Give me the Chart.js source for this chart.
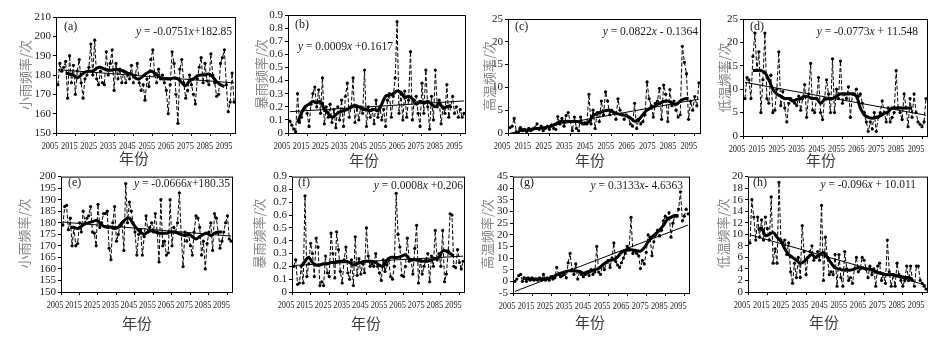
<!DOCTYPE html>
<html>
<head>
<meta charset="utf-8">
<script src="https://cdn.jsdelivr.net/npm/chart.js@4.4.0/dist/chart.umd.min.js"></script>
<style>
  body { margin: 0; background: #fff; width: 950px; height: 340px; position: relative; overflow: hidden; }
  .panel { position: absolute; }
</style>
</head>
<body>
<script>
/**
 * 8-panel climate frequency chart (2006-2097)
 * annual values (dashed), moving average (thick), linear trend (thin)
 */

// ---- shared axes ----
const xTicks = [2005, 2015, 2025, 2035, 2045, 2055, 2065, 2075, 2085, 2095];
const years = [
    2006, 2007, 2008, 2009, 2010, 2011, 2012, 2013, 2014, 2015,
    2016, 2017, 2018, 2019, 2020, 2021, 2022, 2023, 2024, 2025,
    2026, 2027, 2028, 2029, 2030, 2031, 2032, 2033, 2034, 2035,
    2036, 2037, 2038, 2039, 2040, 2041, 2042, 2043, 2044, 2045,
    2046, 2047, 2048, 2049, 2050, 2051, 2052, 2053, 2054, 2055,
    2056, 2057, 2058, 2059, 2060, 2061, 2062, 2063, 2064, 2065,
    2066, 2067, 2068, 2069, 2070, 2071, 2072, 2073, 2074, 2075,
    2076, 2077, 2078, 2079, 2080, 2081, 2082, 2083, 2084, 2085,
    2086, 2087, 2088, 2089, 2090, 2091, 2092, 2093, 2094, 2095,
    2096, 2097
];
const smoothYears = [
    2010, 2012, 2014, 2016, 2018, 2020, 2022, 2024, 2026, 2028,
    2030, 2032, 2034, 2036, 2038, 2040, 2042, 2044, 2046, 2048,
    2050, 2052, 2054, 2056, 2058, 2060, 2062, 2064, 2066, 2068,
    2070, 2072, 2074, 2076, 2078, 2080, 2082, 2084, 2086, 2088,
    2090, 2092
];
const trendYears = [2006, 2097];

// ---- (a) 小雨 ----
const rawA = [
    175, 186, 182, 184, 187, 168, 190, 176, 185, 170,
    182, 188, 176, 168, 178, 180, 184, 196, 180, 198,
    178, 175, 182, 176, 175, 192, 180, 186, 193, 172,
    186, 178, 183, 176, 182, 176, 180, 178, 185, 176,
    180, 186, 176, 172, 175, 167, 178, 174, 188, 193,
    180, 176, 183, 178, 180, 176, 172, 160, 175, 192,
    186, 170, 155, 183, 188, 176, 168, 172, 180, 175,
    170, 165, 178, 184, 189, 176, 186, 177, 175, 191,
    180, 176, 169, 170, 186, 189, 193, 175, 161, 166,
    181, 166
];
const smoothA = [
    181, 180.5, 180, 178.5, 180, 181.5, 182, 182, 183.5, 184,
    183, 182.5, 182.5, 183, 182.5, 182, 181, 180.5, 178.5, 178,
    179.5, 181, 182, 181, 179.5, 178, 178, 178, 178.5, 178,
    176, 174.5, 177, 178, 179.5, 180, 180, 180.5, 179, 176.5,
    175, 174
];
const trendA = [182.77, 175.94];

// ---- (b) 暴雨 ----
const rawB = [
    0.09, 0.06, 0.03, 0.01, 0.30, 0.08, 0.12, 0.18, 0.20, 0.15,
    0.05, 0.22, 0.30, 0.35, 0.20, 0.33, 0.15, 0.42, 0.07, 0.20,
    0.12, 0.22, 0.08, 0.18, 0.04, 0.20, 0.10, 0.25, 0.05, 0.28,
    0.38, 0.12, 0.20, 0.42, 0.08, 0.20, 0.10, 0.20, 0.15, 0.48,
    0.05, 0.20, 0.12, 0.18, 0.07, 0.25, 0.12, 0.20, 0.10, 0.18,
    0.05, 0.25, 0.30, 0.12, 0.28, 0.42, 0.85, 0.15, 0.30, 0.10,
    0.32, 0.12, 0.25, 0.62, 0.10, 0.25, 0.28, 0.15, 0.05, 0.38,
    0.15, 0.48, 0.20, 0.03, 0.28, 0.10, 0.48, 0.20, 0.25, 0.07,
    0.20, 0.15, 0.37, 0.12, 0.20, 0.28, 0.15, 0.20, 0.12, 0.18,
    0.12, 0.15
];
const smoothB = [
    0.08, 0.15, 0.20, 0.22, 0.24, 0.23, 0.24, 0.18, 0.15, 0.12,
    0.14, 0.16, 0.17, 0.18, 0.20, 0.21, 0.20, 0.18, 0.18, 0.17,
    0.18, 0.17, 0.22, 0.28, 0.29, 0.30, 0.32, 0.31, 0.27, 0.28,
    0.26, 0.22, 0.24, 0.23, 0.24, 0.22, 0.20, 0.23, 0.19, 0.20,
    0.21, null
];
const trendB = [0.1626, 0.2445];

// ---- (c) 高温 ----
const rawC = [
    1.2, 1.5, 3.2, 0.3, 0.2, 1.2, 0.5, 0.8, 0.3, 1.0,
    0.5, 0.8, 1.2, 2.0, 0.8, 1.5, 0.5, 1.0, 1.5, 0.8,
    1.8, 1.0, 0.8, 3.6, 2.0, 3.2, 1.5, 3.8, 4.5, 2.5,
    0.5, 3.5, 1.0, 0.5, 3.5, 2.0, 2.2, 2.0, 8.5, 2.0,
    5.0, 1.0, 4.5, 2.5, 7.0, 4.0, 9.0, 7.0, 4.0, 5.0,
    4.5, 3.0, 7.5, 5.0, 4.0, 3.0, 4.0, 3.5, 2.0, 1.5,
    6.5, 1.0, 3.0, 2.0, 2.5, 4.0, 11.2, 7.5, 6.0, 3.5,
    6.5, 7.0, 9.8, 3.0, 10.5, 8.5, 2.5, 9.5, 6.0, 7.0,
    5.0, 3.5, 4.0, 19.0, 15.5, 13.0, 3.0, 7.0, 5.0, 8.0,
    6.0, 11.0
];
const smoothC = [
    0.8, 0.7, 0.6, 0.8, 1.0, 1.0, 1.1, 1.3, 1.5, 2.0,
    2.5, 2.5, 2.6, 2.5, 2.5, 2.3, 2.0, 2.5, 3.8, 4.3,
    4.6, 4.9, 5.0, 4.5, 4.2, 4.0, 3.8, 3.3, 2.6, 3.0,
    4.0, 5.0, 5.5, 6.0, 6.5, 6.9, 7.0, 6.6, 6.3, 7.0,
    7.5, 7.6
];
const trendC = [-0.054, 7.43];

// ---- (d) 低温 ----
const rawD = [
    8, 12.5, 12, 8, 17, 22, 14, 18, 5, 12,
    22, 8, 7, 13, 5, 5.5, 10, 18, 6.5, 9.5,
    6, 3, 7, 8, 7.5, 7, 6.5, 8.5, 5.5, 8,
    11, 4, 9, 15.5, 5.5, 5, 8, 12.5, 5, 3.5,
    8, 12, 9, 5, 16.5, 5, 10, 8, 16, 7,
    9, 8, 10.5, 4, 9, 9, 10, 8.5, 9, 7,
    5, 3, 1, 3, 1.5, 5, 1, 4, 5, 7.5,
    5, 3, 6, 3, 4, 5, 14, 6, 5, 3.5,
    9, 6, 2, 8, 4, 9, 5, 3, 2.5, 2,
    3, 8
];
const smoothD = [
    14, 14, 14, 13.5, 12, 10, 9, 8.5, 8, 8,
    7.5, 7.8, 8, 8.5, 8.3, 8, 8, 7, 7.8, 8,
    8, 8.5, 9, 9, 9, 9, 8.5, 6, 4.5, 4,
    3.8, 4, 4.3, 4.8, 5.2, 6, 6, 6, 6, 6,
    6, null
];
const trendD = [11.47, 4.44];

// ---- (e) 小雨 ----
const rawE = [
    179, 187, 187.5, 177, 182, 170, 178, 170, 171, 180,
    176, 185, 180, 182, 183, 187, 176, 175.5, 170, 188,
    178, 180, 184, 184, 185, 169, 164, 180, 187, 172,
    175, 179, 180, 168, 197, 180, 189, 185, 180, 176,
    166, 175, 177, 166, 174, 183, 176, 178, 180, 176,
    184, 176, 163, 190, 170, 172, 166, 167, 190, 170,
    178, 176, 180, 193, 175, 161, 176, 172, 175, 170,
    166, 176, 183, 182, 178, 166, 172, 160, 171, 176,
    180, 168, 184, 182, 176, 169, 172, 176, 180, 183,
    173, 172
];
const smoothE = [
    178, 178, 177.5, 178.5, 179.5, 180, 180.5, 181, 180, 178.5,
    178, 178, 177.5, 178, 180, 181.5, 182, 179.5, 177.5, 176,
    175, 176, 176.5, 176, 175.5, 175.5, 175.5, 176, 176, 175.5,
    175, 174.5, 175, 174, 173, 174, 175, 175.5, 174.5, 175.5,
    176, 176
];
const trendE = [180.28, 174.22];

// ---- (f) 暴雨 ----
const rawF = [
    0.20, 0.25, 0.06, 0.07, 0.20, 0.07, 0.75, 0.12, 0.22, 0.38,
    0.30, 0.12, 0.42, 0.35, 0.05, 0.08, 0.05, 0.28, 0.15, 0.12,
    0.46, 0.30, 0.11, 0.47, 0.33, 0.16, 0.07, 0.25, 0.35, 0.15,
    0.10, 0.25, 0.05, 0.43, 0.13, 0.26, 0.14, 0.22, 0.15, 0.50,
    0.28, 0.20, 0.22, 0.20, 0.30, 0.20, 0.15, 0.09, 0.25, 0.16,
    0.21, 0.25, 0.12, 0.10, 0.20, 0.77, 0.45, 0.35, 0.13, 0.12,
    0.20, 0.42, 0.24, 0.25, 0.14, 0.34, 0.52, 0.07, 0.25, 0.14,
    0.20, 0.25, 0.30, 0.08, 0.28, 0.20, 0.48, 0.25, 0.30, 0.20,
    0.48, 0.08, 0.14, 0.32, 0.61, 0.60, 0.20, 0.19, 0.33, 0.23,
    0.18, 0.24
];
const smoothF = [
    0.20, 0.24, 0.27, 0.23, 0.21, 0.21, 0.22, 0.22, 0.23, 0.23,
    0.24, 0.24, 0.24, 0.23, 0.21, 0.22, 0.23, 0.24, 0.24, 0.24,
    0.23, 0.21, 0.20, 0.25, 0.27, 0.27, 0.27, 0.28, 0.29, 0.26,
    0.25, 0.25, 0.24, 0.24, 0.24, 0.25, 0.26, 0.27, 0.32, 0.32,
    0.30, 0.28
];
const trendF = [0.2068, 0.2796];

// ---- (g) 高温 ----
const rawG = [
    0, 1, 2.5, 3, 0, 1.5, 0, 1.5, 0.5, 1.5,
    0.5, 1, 0.5, 1.5, 0.5, 3, 0.5, 1.5, 0.5, 2,
    1, 1.5, 6, 3, 2, 2.5, 3, 1.5, 8, 12,
    5, 3, 7.5, 1, 4, 3, 2, 3, 3.5, 2.5,
    5, 3, 4, 15, 4, 3, 7, 5, 8, 9,
    6, 10, 16.5, 8.5, 7, 6, 8, 10, 12, 15,
    14, 27.5, 12, 13, 12, 11, 5.5, 9, 7.5, 12.5,
    20, 19, 11, 17, 20, 22, 19.5, 22, 26, 28,
    27, 29.5, 19, 25, 28, 28, 31, 38.5, 26, 28,
    31, 29
];
const smoothG = [
    1.5, 1.2, 1.0, 1.0, 1.0, 1.0, 1.2, 1.3, 2.0, 2.8,
    3.5, 4.0, 4.5, 4.5, 4.5, 4.3, 3.5, 4.0, 4.5, 5.0,
    5.5, 7.0, 8.2, 9.0, 9.3, 10.5, 12.5, 13.2, 13.5, 13.5,
    13.2, 13.0, 14.5, 17, 19, 20.5, 22, 24, 26.5, 27.5,
    28.3, 28
];
const trendG = [-4.32, 24.19];

// ---- (h) 低温 ----
const rawH = [
    8.5, 16, 13, 9, 13, 9.5, 12.5, 9, 13, 11,
    9, 16.5, 5, 7.5, 5, 19, 9, 8.5, 9, 6.5,
    8.5, 3.5, 1.5, 5, 2.5, 6, 2.5, 11.5, 7, 3,
    6, 7, 8, 5.5, 6, 7, 5.5, 15, 2, 9.5,
    6, 3, 3.5, 3, 6.5, 1, 6.5, 2.5, 1, 7,
    4, 2, 2.5, 1.5, 4, 6, 3.5, 4, 6, 5.5,
    4, 2.5, 4.5, 3, 4, 1, 4.5, 5, 2, 3,
    1.5, 9, 3.5, 1, 3, 1, 5, 3, 2, 1,
    2, 4.5, 2, 4.5, 2, 1, 4.5, 4.5, 2, 1.5,
    1, 0.5
];
const smoothH = [
    10.8, 11, 9.8, 10, 10.3, 9.5, 8.8, 7.5, 6.5, 6,
    5.5, 5, 5.3, 6, 6.5, 6, 6.5, 6.8, 6, 5,
    4.2, 4, 3.8, 3.8, 3.8, 4, 4.2, 4.2, 4, 4,
    3.7, 3.3, 3.2, 3, 3, 3, 2.8, 2.7, 2.5, 2.5,
    2.2, null
];
const trendH = [9.92, 1.18];

// ---- panel layout (page px): canvas [x, y, w, h], plot [left, top, right, bottom] ----
const panels = [
    { tag: '(a)', yTitle: '小雨频率/次', eq: 'y = -0.0751x+182.85', raw: rawA, smooth: smoothA, trend: trendA,
      yMin: 150, yMax: 210, yStep: 10, canvas: [0, 0, 240, 170], plot: [56, 17, 236, 133],
      tagAt: [64, 27], eqAt: [232, 32, 'right'], yTitleX: 25, xTitleAt: [134, 158] },
    { tag: '(b)', yTitle: '暴雨频率/次', eq: 'y = 0.0009x +0.1617', raw: rawB, smooth: smoothB, trend: trendB,
      yMin: 0, yMax: 0.9, yStep: 0.1, canvas: [238, 0, 234, 170], plot: [288, 15, 466, 133],
      tagAt: [295, 25], eqAt: [298, 47, 'left'], yTitleX: 261, xTitleAt: [364, 160] },
    { tag: '(c)', yTitle: '高温频率/次', eq: 'y = 0.0822x - 0.1364', raw: rawC, smooth: smoothC, trend: trendC,
      yMin: 0, yMax: 25, yStep: 5, canvas: [472, 0, 234, 170], plot: [508, 19, 701, 133],
      tagAt: [515, 27], eqAt: [698, 32, 'right'], yTitleX: 489, xTitleAt: [590, 160] },
    { tag: '(d)', yTitle: '低温频率/次', eq: 'y = -0.0773x + 11.548', raw: rawD, smooth: smoothD, trend: trendD,
      yMin: 0, yMax: 25, yStep: 5, canvas: [707, 0, 243, 170], plot: [743, 19, 928, 136],
      tagAt: [750, 27], eqAt: [918, 32, 'right'], yTitleX: 724, xTitleAt: [821, 160] },
    { tag: '(e)', yTitle: '小雨频率/次', eq: 'y = -0.0666x+180.35', raw: rawE, smooth: smoothE, trend: trendE,
      yMin: 150, yMax: 200, yStep: 5, canvas: [0, 168, 240, 172], plot: [61, 175, 233, 292],
      tagAt: [68, 183], eqAt: [230, 184, 'right'], yTitleX: 24, xTitleAt: [137, 323] },
    { tag: '(f)', yTitle: '暴雨频率/次', eq: 'y = 0.0008x +0.206', raw: rawF, smooth: smoothF, trend: trendF,
      yMin: 0, yMax: 0.9, yStep: 0.1, canvas: [238, 168, 234, 172], plot: [292, 175, 465, 292],
      tagAt: [298, 183], eqAt: [463, 186, 'right'], yTitleX: 259, xTitleAt: [366, 323] },
    { tag: '(g)', yTitle: '高温频率/次', eq: 'y = 0.3133x- 4.6363', raw: rawG, smooth: smoothG, trend: trendG,
      yMin: -5, yMax: 45, yStep: 5, canvas: [472, 168, 234, 172], plot: [513, 175, 690, 293],
      tagAt: [520, 183], eqAt: [683, 186, 'right'], yTitleX: 487, xTitleAt: [590, 322] },
    { tag: '(h)', yTitle: '低温频率/次', eq: 'y = -0.096x + 10.011', raw: rawH, smooth: smoothH, trend: trendH,
      yMin: 0, yMax: 20, yStep: 2, canvas: [707, 168, 243, 172], plot: [748, 175, 928, 292],
      tagAt: [753, 183], eqAt: [916, 185, 'right'], yTitleX: 723, xTitleAt: [824, 322] }
];

const SERIF = "'Liberation Serif', 'Times New Roman', serif";
const CJK = "'Noto Sans CJK SC', sans-serif";
Chart.defaults.font.family = SERIF;
Chart.defaults.color = '#1a1a1a';

// frame + in-panel texts + axis titles + condensed year labels
const panelText = {
    id: 'panelText',
    afterDraw(chart, args, opts) {
        const p = opts.panel;
        const ctx = chart.ctx;
        const a = chart.chartArea;
        const ox = p.canvas[0], oy = p.canvas[1];
        ctx.save();

        ctx.strokeStyle = '#000';
        ctx.lineWidth = 1;
        ctx.strokeRect(a.left + 0.5, a.top + 0.5, a.right - a.left - 1, a.bottom - a.top);

        ctx.fillStyle = '#1a1a1a';
        ctx.textBaseline = 'middle';
        ctx.font = `12px ${SERIF}`;
        ctx.textAlign = 'left';
        ctx.fillText(p.tag, p.tagAt[0] - ox, p.tagAt[1] - oy);

        // equation, y and x in italics
        const parts = p.eq.split(/([xy])/).filter(s => s.length);
        const fontOf = s => (s === 'x' || s === 'y') ? `italic 11.5px ${SERIF}` : `11.5px ${SERIF}`;
        let total = 0;
        parts.forEach(s => { ctx.font = fontOf(s); total += ctx.measureText(s).width; });
        let x = (p.eqAt[2] === 'right' ? p.eqAt[0] - total : p.eqAt[0]) - ox;
        parts.forEach(s => {
            ctx.font = fontOf(s);
            ctx.fillText(s, x, p.eqAt[1] - oy);
            x += ctx.measureText(s).width;
        });

        // year labels, squeezed like the original
        ctx.font = `11px ${SERIF}`;
        ctx.textAlign = 'center';
        const xs = chart.scales.x;
        xTicks.forEach(v => {
            ctx.save();
            ctx.translate(xs.getPixelForValue(v) - 6, a.bottom + 13);
            ctx.scale(0.76, 1);
            ctx.fillText(String(v), 0, 0);
            ctx.restore();
        });

        // y axis title
        ctx.fillStyle = '#858585';
        ctx.font = `13px ${CJK}`;
        ctx.textAlign = 'center';
        ctx.translate(p.yTitleX - ox, (p.plot[1] + p.plot[3]) / 2 - oy);
        ctx.rotate(-Math.PI / 2);
        ctx.fillText(p.yTitle, 0, 0);
        ctx.restore();

        // x axis title
        ctx.save();
        ctx.fillStyle = '#3a3a3a';
        ctx.font = `15px ${CJK}`;
        ctx.textAlign = 'center';
        ctx.textBaseline = 'middle';
        ctx.fillText('年份', p.xTitleAt[0] - ox, p.xTitleAt[1] - oy);
        ctx.restore();
    }
};

function buildPanel(p) {
    const [cx, cy, cw, ch] = p.canvas;
    const [pl, pt, pr, pb] = p.plot;

    const canvas = document.createElement('canvas');
    canvas.className = 'panel';
    canvas.width = cw;
    canvas.height = ch;
    canvas.style.left = cx + 'px';
    canvas.style.top = cy + 'px';
    document.body.appendChild(canvas);

    const tickGrid = { display: true, drawOnChartArea: false, drawTicks: true, tickLength: 3, color: '#000' };

    new Chart(canvas, {
        type: 'line',
        data: {
            datasets: [
                {
                    data: p.smooth.map((v, i) => ({ x: smoothYears[i], y: v })),
                    borderColor: '#000', borderWidth: 3, pointRadius: 0, tension: 0.4, order: 0
                },
                {
                    data: trendYears.map((yr, i) => ({ x: yr, y: p.trend[i] })),
                    borderColor: '#000', borderWidth: 1, pointRadius: 0, order: 1
                },
                {
                    data: years.map((yr, i) => ({ x: yr, y: p.raw[i] })),
                    borderColor: '#000', borderWidth: 1, borderDash: [4, 2],
                    pointRadius: 1.6, pointBackgroundColor: '#000', pointBorderWidth: 0, order: 2
                }
            ]
        },
        options: {
            responsive: false,
            animation: false,
            devicePixelRatio: 1,
            layout: { autoPadding: false, padding: { left: 0, top: pt - cy, right: cx + cw - pr, bottom: 0 } },
            plugins: {
                legend: { display: false },
                tooltip: { enabled: false },
                panelText: { panel: p }
            },
            scales: {
                x: {
                    type: 'linear',
                    min: 2005,
                    max: 2098,
                    afterBuildTicks: s => { s.ticks = xTicks.map(v => ({ value: v })); },
                    afterFit: s => { s.height = cy + ch - pb; },
                    grid: tickGrid,
                    border: { display: false },
                    // labels are drawn squeezed by panelText
                    ticks: { display: false, autoSkip: false }
                },
                y: {
                    min: p.yMin,
                    max: p.yMax,
                    afterFit: s => { s.width = pl - cx; },
                    grid: tickGrid,
                    border: { display: false },
                    ticks: { stepSize: p.yStep, autoSkip: false, padding: 2, font: { size: 11 } }
                }
            }
        },
        plugins: [panelText]
    });
}

panels.forEach(buildPanel);
</script>
</body>
</html>
